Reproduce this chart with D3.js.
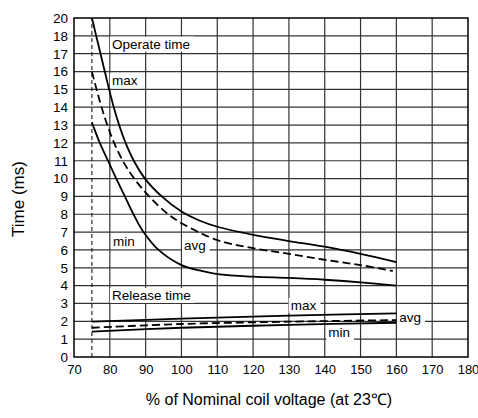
<!DOCTYPE html>
<html>
<head>
<meta charset="utf-8">
<script src="https://cdn.jsdelivr.net/npm/d3@7"></script>
<style>
  html, body { margin: 0; padding: 0; background: #fff; }
  svg { display: block; font-family: "Liberation Sans", Arial, sans-serif; }
</style>
</head>
<body>
<svg id="chart" width="478" height="418"></svg>
<script>
// ---- data ----
const xTicks = [70, 80, 90, 100, 110, 120, 130, 140, 150, 160, 170, 180];
const yTicks = [0, 1, 2, 3, 4, 5, 6, 7, 8, 9, 10, 11, 12, 13, 14, 15, 16, 17, 18, 20];
const ratedLine = 75;

const operateMax = [[75,20],[76.2,18],[77.4,17],[78.6,16],[79.8,15],[81.1,14],[82.6,13],[84.4,12],[86.7,11],[89.8,10],[94.5,9],[100,8.15],[105,7.65],[110,7.3],[120,6.85],[130,6.5],[140,6.18],[150,5.78],[160,5.32]];
const operateAvg = [[75,16],[76.3,15],[77.7,14],[79.3,13],[81.2,12],[83.6,11],[86.8,10],[91,9],[96,8.05],[100,7.5],[110,6.55],[120,6.1],[130,5.78],[140,5.45],[150,5.15],[159,4.82]];
const operateMin = [[75,13.15],[77.2,12],[79.5,11],[81.8,10],[84.2,9],[86.6,8],[89.4,7],[93.6,6],[100,5.15],[105,4.85],[110,4.65],[120,4.5],[130,4.43],[140,4.33],[150,4.18],[160,4.0]];
const releaseMax = [[75,1.98],[100,2.15],[130,2.32],[160,2.44]];
const releaseAvg = [[75,1.64],[100,1.85],[130,1.98],[160,2.07]];
const releaseMin = [[75,1.42],[100,1.64],[130,1.80],[160,1.92]];

const labels = [
  {text: "Operate time", x: 80.6, y: 17.55},
  {text: "max", x: 80.6, y: 15.49},
  {text: "min", x: 80.9, y: 6.48},
  {text: "avg", x: 100.7, y: 6.28},
  {text: "Release time", x: 80.6, y: 3.46},
  {text: "max", x: 130.5, y: 2.9},
  {text: "avg", x: 160.8, y: 2.24},
  {text: "min", x: 141, y: 1.37}
];

// ---- layout ----
const margin = {left: 74, top: 18, right: 10, bottom: 61};
const W = 478, H = 418;
const iw = W - margin.left - margin.right;   // 394
const ih = H - margin.top - margin.bottom;   // 339

const svg = d3.select("#chart");
const g = svg.append("g").attr("transform", `translate(${margin.left},${margin.top})`);

const x = d3.scaleLinear().domain([70, 180]).range([0, iw]);
const unit = ih / 19;
const y = d3.scaleLinear().domain([0, 18, 20]).range([ih, ih - 18 * unit, 0]);

// grid
g.append("g").selectAll("line").data(xTicks.slice(1, -1)).join("line")
  .attr("x1", d => x(d)).attr("x2", d => x(d)).attr("y1", 0).attr("y2", ih)
  .attr("stroke", "#333").attr("stroke-width", 1.2);
g.append("g").selectAll("line").data(yTicks.slice(1, -1)).join("line")
  .attr("x1", 0).attr("x2", iw).attr("y1", d => y(d)).attr("y2", d => y(d))
  .attr("stroke", "#333").attr("stroke-width", 1.2);

// frame
g.append("rect").attr("x", 0).attr("y", 0).attr("width", iw).attr("height", ih)
  .attr("fill", "none").attr("stroke", "#000").attr("stroke-width", 1.5);

// axes (labels only)
const xAxis = d3.axisBottom(x).tickValues(xTicks).tickSize(0).tickPadding(8);
const gx = g.append("g").attr("transform", `translate(0,${ih})`).call(xAxis);
gx.select(".domain").remove();
gx.selectAll("text").attr("font-size", 13).attr("fill", "#000").attr("font-family", "Liberation Sans, Arial, sans-serif");

const yAxis = d3.axisLeft(y).tickValues(yTicks).tickSize(0).tickPadding(6);
const gy = g.append("g").call(yAxis);
gy.select(".domain").remove();
gy.selectAll("text").attr("font-size", 13.5).attr("fill", "#000").attr("font-family", "Liberation Sans, Arial, sans-serif");

// vertical dashed reference line at 75%
g.append("line")
  .attr("x1", x(ratedLine)).attr("x2", x(ratedLine)).attr("y1", y(0)).attr("y2", y(20))
  .attr("stroke", "#000").attr("stroke-width", 1).attr("stroke-dasharray", "4,3");

// curves
const line = d3.line().x(d => x(d[0])).y(d => y(d[1])).curve(d3.curveCatmullRom.alpha(0.5));
const series = [
  {data: operateMax, dash: null},
  {data: operateAvg, dash: "8,4"},
  {data: operateMin, dash: null},
  {data: releaseMax, dash: null},
  {data: releaseAvg, dash: "8,4"},
  {data: releaseMin, dash: null}
];
g.append("g").selectAll("path").data(series).join("path")
  .attr("d", d => line(d.data))
  .attr("fill", "none").attr("stroke", "#000").attr("stroke-width", 1.8)
  .attr("stroke-dasharray", d => d.dash);

// in-plot labels with white backgrounds
const lg = g.append("g");
labels.forEach(l => {
  const t = lg.append("text")
    .attr("x", x(l.x)).attr("y", y(l.y)).attr("dy", "0.35em")
    .attr("font-size", 13.5).attr("fill", "#000").text(l.text);
  const bb = t.node().getBBox();
  lg.insert("rect", "text")
    .attr("x", bb.x - 2).attr("y", bb.y).attr("width", bb.width + 6).attr("height", bb.height)
    .attr("fill", "#fff");
});

// axis titles
svg.append("text")
  .attr("transform", `translate(24,199) rotate(-90)`)
  .attr("text-anchor", "middle").attr("font-size", 17).attr("fill", "#000")
  .text("Time (ms)");
svg.append("text")
  .attr("x", 269).attr("y", 405)
  .attr("text-anchor", "middle").attr("font-size", 16).attr("fill", "#000")
  .text("% of Nominal coil voltage (at 23℃)");
</script>
</body>
</html>
